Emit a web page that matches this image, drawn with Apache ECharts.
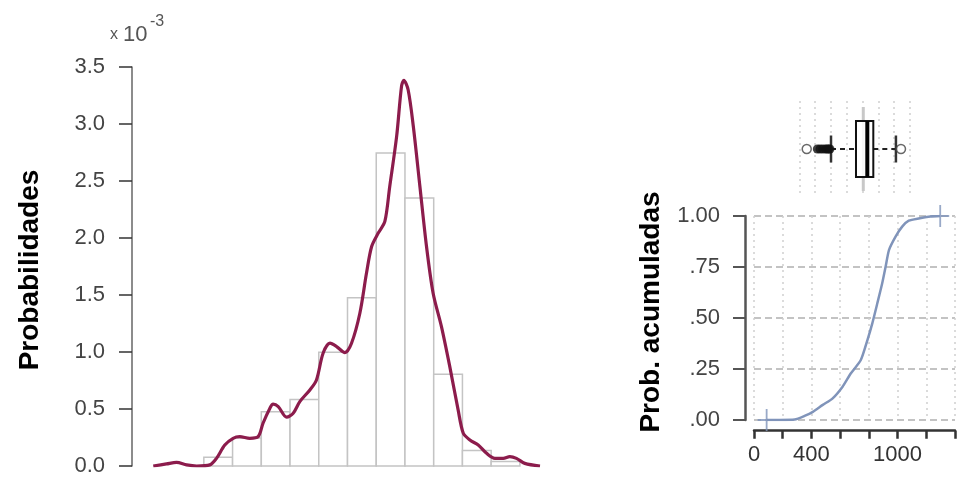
<!DOCTYPE html>
<html>
<head>
<meta charset="utf-8">
<script src="https://cdn.jsdelivr.net/npm/echarts@6/dist/echarts.min.js"></script>
<style>
html,body{margin:0;padding:0;background:#fff;}
#c{width:958px;height:487px;}
</style>
</head>
<body>
<div id="c"></div>
<script>
// ---------- data ----------
// histogram (density, x 10^-3)
var histBreaks = [200, 300, 400, 500, 600, 700, 800, 900, 1000, 1100, 1200, 1300];
var histDensity = [0.077, 0.245, 0.475, 0.584, 0.997, 1.475, 2.746, 2.35, 0.805, 0.135, 0.04];
// kernel density curve (x 10^-3)
var densityX = [24, 70, 105, 140, 175, 221, 244, 273, 302, 325, 360, 389, 406, 430, 441, 459, 488, 511, 534, 569, 592, 615, 639, 662, 691, 714, 743, 766, 784, 807, 830, 847, 871, 888, 896, 911, 929, 952, 975, 998, 1027, 1056, 1085, 1103, 1126, 1155, 1184, 1213, 1242, 1265, 1288, 1317, 1370];
var densityY = [0, 0.018, 0.032, 0.01, 0, 0.01, 0.067, 0.184, 0.243, 0.257, 0.243, 0.257, 0.375, 0.507, 0.542, 0.521, 0.428, 0.463, 0.565, 0.667, 0.755, 0.989, 1.077, 1.048, 0.995, 1.077, 1.34, 1.69, 1.925, 2.043, 2.145, 2.452, 2.891, 3.33, 3.383, 3.30, 2.98, 2.452, 1.925, 1.516, 1.223, 0.872, 0.492, 0.287, 0.228, 0.184, 0.111, 0.067, 0.067, 0.082, 0.067, 0.023, 0];
// empirical cumulative distribution
var cdfX = [88, 180, 283, 352, 410, 479, 548, 617, 675, 744, 790, 824, 859, 893, 917, 940, 986, 1032, 1078, 1147, 1228, 1297];
var cdfY = [0, 0, 0.002, 0.02, 0.04, 0.074, 0.106, 0.163, 0.229, 0.294, 0.392, 0.474, 0.572, 0.670, 0.752, 0.833, 0.899, 0.948, 0.977, 0.988, 0.997, 1.0];
var cdfEnds = [[88, 0], [1297, 1]];
var cdfTickLabels = [0, 400, 1000];
// boxplot summary: lower whisker, Q1, median, Q3, upper whisker, mean
var boxStats = [401, 717, 860, 936, 1222];
var boxMean = 809;
var outliersOpen = [94, 1286];
var outliersFilled = [228, 262, 296, 330, 352, 372, 388];
var leftTicks = ['0.0', '0.5', '1.0', '1.5', '2.0', '2.5', '3.0', '3.5'];

var FONT = '"Liberation Sans", Arial, Helvetica, sans-serif';
var chart = echarts.init(document.getElementById('c'));

var histData = histDensity.map(function (d, i) { return [histBreaks[i], histBreaks[i + 1], d]; });

var option = {
  animation: false,
  backgroundColor: '#fff',
  grid: [
    {left: 132, top: 67, width: 431, height: 399},
    {left: 799.3, top: 101, width: 110.7, height: 96},
    {left: 754, top: 216, width: 202.7, height: 204}
  ],
  xAxis: [
    {gridIndex: 0, type: 'value', min: -50, max: 1450, show: false},
    {gridIndex: 1, type: 'value', min: 0, max: 1400, interval: 200,
      axisLine: {show: false}, axisTick: {show: false}, axisLabel: {show: false},
      splitLine: {show: true, lineStyle: {color: '#cfcfcf', type: [2, 4], width: 1.5}}},
    {gridIndex: 2, type: 'value', min: 0, max: 1400, interval: 200, offset: 10.7,
      axisLine: {show: true, onZero: false, lineStyle: {color: '#333', width: 2.5}},
      axisTick: {show: true, length: 8, lineStyle: {color: '#333', width: 2.5}},
      axisLabel: {margin: 13, fontSize: 22, color: '#333', fontFamily: FONT, showMinLabel: true, showMaxLabel: true,
        formatter: function (v) { return cdfTickLabels.indexOf(v) >= 0 ? String(v) : ''; }},
      splitLine: {show: true, lineStyle: {color: '#d0d0d0', type: [2, 4], width: 1.5}}}
  ],
  yAxis: [
    {gridIndex: 0, type: 'value', min: 0, max: 3.5, interval: 0.5,
      axisLine: {show: true, onZero: false, lineStyle: {color: '#666', width: 1.5}},
      axisTick: {show: true, length: 13, lineStyle: {color: '#333', width: 1.5}},
      axisLabel: {margin: 27, fontSize: 22, color: '#444', fontFamily: FONT,
        formatter: function (v) { return leftTicks[Math.round(v * 2)]; }},
      splitLine: {show: false}},
    {gridIndex: 1, type: 'value', min: 0, max: 1, show: false},
    {gridIndex: 2, type: 'value', min: 0, max: 1, interval: 0.25, offset: 9,
      axisLine: {show: true, onZero: false, lineStyle: {color: '#555', width: 2.5}},
      axisTick: {show: true, length: 12, lineStyle: {color: '#555', width: 2}},
      axisLabel: {margin: 25, fontSize: 22, color: '#444', fontFamily: FONT,
        formatter: function (v) { return v === 1 ? '1.00' : '.' + String(Math.round(v * 100)).padStart(2, '0'); }},
      splitLine: {show: true, lineStyle: {color: '#b0b0b0', type: [7, 4], width: 1.5}}}
  ],
  graphic: [
    {type: 'text', x: 30, y: 270, rotation: Math.PI / 2,
      style: {text: 'Probabilidades', font: 'bold 28px ' + FONT, fill: '#000', align: 'center', verticalAlign: 'middle'}},
    {type: 'text', x: 651, y: 312, rotation: Math.PI / 2,
      style: {text: 'Prob. acumuladas', font: 'bold 28px ' + FONT, fill: '#000', align: 'center', verticalAlign: 'middle'}},
    {type: 'text', x: 110, y: 43, style: {text: 'x', font: '16px ' + FONT, fill: '#555', align: 'left', verticalAlign: 'bottom'}},
    {type: 'text', x: 123, y: 46, style: {text: '10', font: '22px ' + FONT, fill: '#555', align: 'left', verticalAlign: 'bottom'}},
    {type: 'text', x: 150, y: 14, style: {text: '-3', font: '16px ' + FONT, fill: '#555', align: 'left', verticalAlign: 'top'}}
  ],
  series: [
    {
      type: 'custom', xAxisIndex: 0, yAxisIndex: 0, data: histData, z: 2,
      renderItem: function (params, api) {
        var p0 = api.coord([api.value(0), api.value(2)]);
        var p1 = api.coord([api.value(1), 0]);
        return {type: 'rect', shape: {x: p0[0], y: p0[1], width: p1[0] - p0[0], height: p1[1] - p0[1]},
          style: {fill: '#fff', stroke: '#c4c4c4', lineWidth: 1.5}};
      }
    },
    {
      type: 'line', xAxisIndex: 0, yAxisIndex: 0, z: 5,
      data: densityX.map(function (x, i) { return [x, densityY[i]]; }),
      showSymbol: false, smooth: 0.3,
      lineStyle: {color: '#8c1c4c', width: 3.2}
    },
    {
      type: 'custom', xAxisIndex: 1, yAxisIndex: 1, data: [[0.5]], z: 5,
      renderItem: function (params, api) {
        var s = boxStats;
        var c = function (x) { return api.coord([x, 0.5]); };
        var lw = c(s[0]), q1 = c(s[1]), md = c(s[2]), q3 = c(s[3]), hw = c(s[4]), mn = c(boxMean);
        var y = lw[1];
        return {type: 'group', children: [
          {type: 'line', shape: {x1: mn[0], y1: y - 42, x2: mn[0], y2: y + 42}, style: {stroke: '#c8c8c8', lineWidth: 3}},
          {type: 'line', shape: {x1: lw[0], y1: y, x2: q1[0], y2: y}, style: {stroke: '#222', lineWidth: 2, lineDash: [5, 4]}},
          {type: 'line', shape: {x1: q3[0], y1: y, x2: hw[0], y2: y}, style: {stroke: '#222', lineWidth: 2, lineDash: [5, 4]}},
          {type: 'line', shape: {x1: lw[0], y1: y - 13.5, x2: lw[0], y2: y + 13.5}, style: {stroke: '#333', lineWidth: 2.5}},
          {type: 'line', shape: {x1: hw[0], y1: y - 13.5, x2: hw[0], y2: y + 13.5}, style: {stroke: '#333', lineWidth: 2.5}},
          {type: 'rect', shape: {x: q1[0], y: y - 28, width: q3[0] - q1[0], height: 56}, style: {fill: 'rgba(255,255,255,0.85)', stroke: '#111', lineWidth: 2}},
          {type: 'line', shape: {x1: md[0], y1: y - 28, x2: md[0], y2: y + 28}, style: {stroke: '#000', lineWidth: 4}}
        ]};
      }
    },
    {
      type: 'scatter', xAxisIndex: 1, yAxisIndex: 1, z: 6,
      data: outliersFilled.map(function (x) { return [x, 0.5]; }),
      symbol: 'circle', symbolSize: 9, itemStyle: {color: '#111'}
    },
    {
      type: 'scatter', xAxisIndex: 1, yAxisIndex: 1, z: 6,
      data: outliersOpen.map(function (x) { return [x, 0.5]; }),
      symbol: 'circle', symbolSize: 9, itemStyle: {color: '#fff', borderColor: '#444', borderWidth: 1.5}
    },
    {
      type: 'line', xAxisIndex: 2, yAxisIndex: 2, z: 5,
      data: cdfX.map(function (x, i) { return [x, cdfY[i]]; }),
      showSymbol: false, smooth: 0.2,
      lineStyle: {color: '#8094ba', width: 2.5}
    },
    {
      type: 'scatter', xAxisIndex: 2, yAxisIndex: 2, z: 6, data: cdfEnds,
      symbol: 'path://M9,0h2v20h-2z M0,9h20v2h-20z', symbolSize: [18, 22],
      itemStyle: {color: '#8094ba'}
    }
  ]
};
chart.setOption(option);
</script>
</body>
</html>
